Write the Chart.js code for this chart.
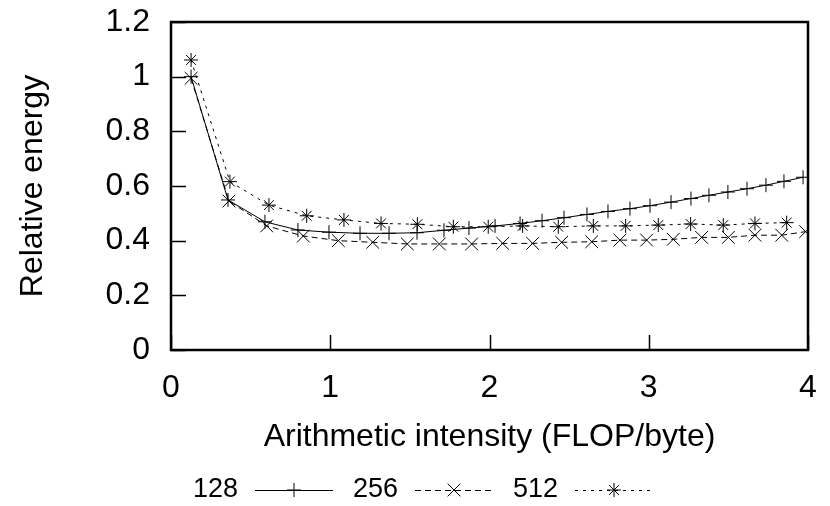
<!DOCTYPE html>
<html>
<head>
    <title>Relative energy vs arithmetic intensity</title>
    <style>
        body { margin: 0; background: white; }
        canvas { display: block; }
    </style>
</head>
<body>

<canvas id="energyChart" width="830" height="506"></canvas>

<script src="https://cdn.jsdelivr.net/npm/chart.js"></script>
<script>
    // series values
    const seriesNames = ['128', '256', '512'];

    const x128 = [0.126, 0.358, 0.590, 0.797, 0.992, 1.187, 1.369, 1.545, 1.714, 1.871, 2.035, 2.192, 2.330,
                  2.468, 2.612, 2.744, 2.882, 3.008, 3.140, 3.265, 3.378, 3.497, 3.617, 3.736, 3.849, 3.969];
    const y128 = [1.000, 0.549, 0.469, 0.439, 0.431, 0.427, 0.427, 0.429, 0.438, 0.446, 0.454, 0.463, 0.473,
                  0.484, 0.496, 0.507, 0.517, 0.528, 0.541, 0.554, 0.566, 0.578, 0.590, 0.603, 0.617, 0.632];

    const x256 = [0.126, 0.364, 0.601, 0.831, 1.051, 1.267, 1.484, 1.685, 1.888, 2.083, 2.271,
                  2.453, 2.642, 2.819, 2.987, 3.154, 3.332, 3.500, 3.667, 3.835, 3.985];
    const y256 = [0.994, 0.545, 0.454, 0.417, 0.400, 0.394, 0.388, 0.388, 0.388, 0.390, 0.390,
                  0.394, 0.396, 0.402, 0.402, 0.405, 0.412, 0.412, 0.420, 0.420, 0.433];

    const x512 = [0.126, 0.370, 0.615, 0.852, 1.086, 1.319, 1.547, 1.773, 1.992,
                  2.208, 2.432, 2.652, 2.855, 3.060, 3.263, 3.468, 3.667, 3.866];
    const y512 = [1.061, 0.616, 0.530, 0.491, 0.476, 0.463, 0.460, 0.451, 0.451,
                  0.454, 0.451, 0.454, 0.454, 0.457, 0.461, 0.457, 0.463, 0.466];

    const xTicks = [0, 1, 2, 3, 4];
    const yTicks = [0, 0.2, 0.4, 0.6, 0.8, 1, 1.2];

    const FONT = '"Liberation Sans", Arial, Helvetica, sans-serif';
    const toPoints = (xs, ys) => xs.map((x, i) => ({ x: x, y: ys[i] }));

    // gnuplot style: full border, ticks pointing inward on left/bottom
    const frame = {
        id: 'frame',
        afterDraw(chart) {
            const ctx = chart.ctx;
            const a = chart.chartArea;
            const xs = chart.scales.x, ys = chart.scales.y;
            ctx.save();
            ctx.strokeStyle = '#000';
            ctx.lineWidth = 1.5;
            ctx.beginPath();
            yTicks.forEach(v => {
                const py = Math.round(ys.getPixelForValue(v)) + 0.5;
                ctx.moveTo(a.left, py);
                ctx.lineTo(a.left + 15, py);
            });
            xTicks.forEach(v => {
                const px = Math.round(xs.getPixelForValue(v)) + 0.5;
                ctx.moveTo(px, a.bottom);
                ctx.lineTo(px, a.bottom - 15);
            });
            ctx.stroke();
            ctx.lineWidth = 2.5;
            ctx.strokeRect(a.left, a.top, a.right - a.left, a.bottom - a.top);

            // key along the bottom: label, then line sample with marker
            ctx.font = '27px ' + FONT;
            ctx.textBaseline = 'middle';
            ctx.fillStyle = '#000';
            const ky = 490;
            chart.data.datasets.forEach((ds, i) => {
                const tx = 193 + 160 * i;
                const sx = 255 + 160 * i;
                ctx.fillText(ds.label, tx, ky);
                ctx.save();
                ctx.lineWidth = 1;
                ctx.setLineDash(ds.borderDash || []);
                ctx.beginPath();
                ctx.moveTo(sx, ky + 0.5);
                ctx.lineTo(sx + 78, ky + 0.5);
                ctx.stroke();
                ctx.restore();
                ctx.lineWidth = 1;
                Chart.helpers.drawPoint(ctx, {
                    pointStyle: ds.pointStyle, radius: ds.pointRadius, rotation: 0, borderWidth: 1
                }, sx + 39, ky);
            });
            ctx.restore();
        }
    };

    const common = {
        borderColor: '#000',
        backgroundColor: '#000',
        pointBorderColor: '#000',
        borderWidth: 1,
        pointBorderWidth: 1,
        fill: false,
        tension: 0
    };

    new Chart(document.getElementById('energyChart'), {
        type: 'line',
        data: {
            datasets: [
                Object.assign({ label: seriesNames[0], data: toPoints(x128, y128), pointStyle: 'cross', pointRadius: 7 }, common),
                Object.assign({ label: seriesNames[1], data: toPoints(x256, y256), pointStyle: 'crossRot', pointRadius: 9, borderDash: [6, 4] }, common),
                Object.assign({ label: seriesNames[2], data: toPoints(x512, y512), pointStyle: 'star', pointRadius: 7, borderDash: [3, 5] }, common)
            ]
        },
        options: {
            responsive: false,
            animation: false,
            layout: { padding: { top: 22, right: 22, left: 0, bottom: 0 } },
            plugins: { legend: { display: false }, tooltip: { enabled: false } },
            scales: {
                x: {
                    type: 'linear', min: 0, max: 4,
                    afterBuildTicks: s => { s.ticks = xTicks.map(v => ({ value: v })); },
                    afterFit: s => { s.height = 156; s.paddingLeft = 0; s.paddingRight = 0; },
                    grid: { display: false, drawTicks: false },
                    border: { display: false },
                    ticks: { color: '#000', padding: 19, font: { family: FONT, size: 32 } },
                    title: { display: true, text: 'Arithmetic intensity (FLOP/byte)', color: '#000',
                             font: { family: FONT, size: 32 }, padding: { top: 0, bottom: 50 } }
                },
                y: {
                    min: 0, max: 1.2,
                    afterBuildTicks: s => { s.ticks = yTicks.map(v => ({ value: v })); },
                    afterFit: s => { s.width = 171; s.paddingTop = 0; s.paddingBottom = 0; },
                    grid: { display: false, drawTicks: false },
                    border: { display: false },
                    ticks: { color: '#000', padding: 21, font: { family: FONT, size: 32 },
                             callback: v => String(parseFloat(v.toFixed(1))) },
                    title: { display: true, text: 'Relative energy', color: '#000',
                             font: { family: FONT, size: 32 }, padding: { top: 14, bottom: 0 } }
                }
            }
        },
        plugins: [frame]
    });
</script>

</body>
</html>
